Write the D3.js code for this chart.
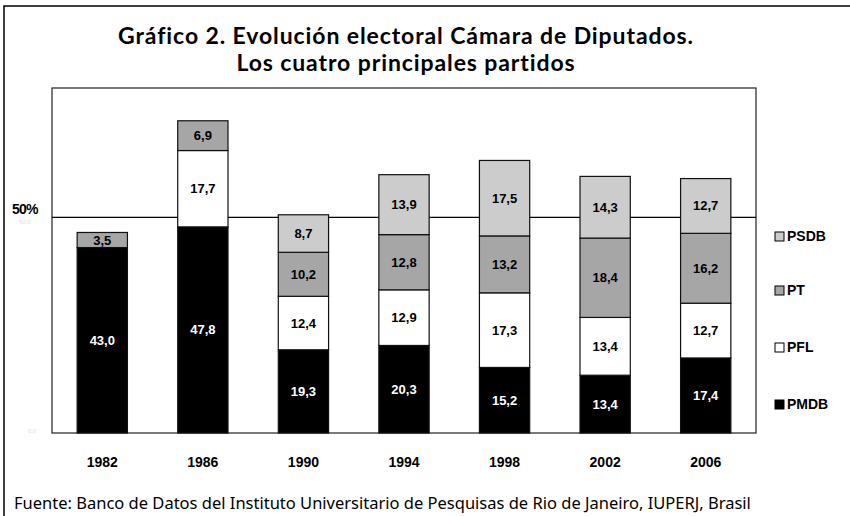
<!DOCTYPE html>
<html>
<head>
<meta charset="utf-8">
<style>
  body { margin: 0; background: #fff; }
  svg { display: block; }
</style>
</head>
<body>
<script src="https://cdn.jsdelivr.net/npm/d3@7"></script>
<script>
// datos (% de votos)
var years = ["1982", "1986", "1990", "1994", "1998", "2002", "2006"];
var parties = ["PMDB", "PFL", "PT", "PSDB"];
var pmdb = [43.0, 47.8, 19.3, 20.3, 15.2, 13.4, 17.4];
var pfl  = [0, 17.7, 12.4, 12.9, 17.3, 13.4, 12.7];
var pt   = [3.5, 6.9, 10.2, 12.8, 13.2, 18.4, 16.2];
var psdb = [0, 0, 8.7, 13.9, 17.5, 14.3, 12.7];
var colors = ["#000000", "#ffffff", "#a6a6a6", "#cccccc"];
var labelColors = ["#ffffff", "#000000", "#000000", "#000000"];

var width = 850, height = 516;
var plot = {left: 52, top: 88, right: 756, bottom: 433};

var svg = d3.select("body").append("svg")
    .attr("width", width)
    .attr("height", height);

// outer frame (only left and top edges visible)
svg.append("path")
    .attr("d", "M4,516V6H850")
    .attr("fill", "none")
    .attr("stroke", "#000")
    .attr("stroke-width", 1.5);

var titleLines = ["Gráfico 2. Evolución electoral Cámara de Diputados.", "Los cuatro principales partidos"];
svg.append("g")
    .selectAll("text")
    .data(titleLines)
    .join("text")
    .attr("x", 406)
    .attr("y", function(d, i) { return 44 + i * 27; })
    .attr("text-anchor", "middle")
    .style("font-family", "Lato, sans-serif")
    .style("font-weight", "bold")
    .style("font-size", "23px")
    .style("letter-spacing", "0.9px")
    .text(function(d) { return d; });

var x = d3.scaleBand()
    .domain(years)
    .range([plot.left, plot.right])
    .paddingInner(0.5)
    .paddingOuter(0.25);

var y = d3.scaleLinear()
    .domain([0, 80])
    .range([plot.bottom, plot.top]);

// plot box
svg.append("rect")
    .attr("x", plot.left).attr("y", plot.top)
    .attr("width", plot.right - plot.left)
    .attr("height", plot.bottom - plot.top)
    .attr("fill", "none")
    .attr("stroke", "#222")
    .attr("stroke-width", 1.2);

// 50% reference line
svg.append("line")
    .attr("x1", plot.left).attr("x2", plot.right)
    .attr("y1", y(50)).attr("y2", y(50))
    .attr("stroke", "#000")
    .attr("stroke-width", 1.2);

svg.append("text")
    .attr("x", 12).attr("y", y(50) - 3)
    .style("font-family", "'Liberation Sans', Arial, sans-serif")
    .style("font-weight", "bold")
    .style("font-size", "14px")
    .style("letter-spacing", "-0.8px")
    .text("50%");
svg.append("text")
    .attr("x", 19).attr("y", y(50) + 7)
    .style("font-family", "'Liberation Sans', Arial, sans-serif")
    .style("font-size", "6px")
    .attr("fill", "#dddddd")
    .text("50,0");
svg.append("text")
    .attr("x", 28).attr("y", y(0))
    .style("font-family", "'Liberation Sans', Arial, sans-serif")
    .style("font-size", "6px")
    .attr("fill", "#dddddd")
    .text("0,0");

var series = d3.stack()
    .keys(d3.range(parties.length))
    .value(function(d, k) { return [pmdb, pfl, pt, psdb][k][d]; })(d3.range(years.length));

var layer = svg.selectAll("g.layer")
    .data(series)
    .join("g")
    .attr("class", "layer");

layer.selectAll("rect")
    .data(function(s) { return s.filter(function(d) { return d[1] > d[0]; }); })
    .join("rect")
    .attr("x", function(d) { return x(years[d.data]); })
    .attr("width", x.bandwidth())
    .attr("y", function(d) { return y(d[1]); })
    .attr("height", function(d) { return y(d[0]) - y(d[1]); })
    .attr("fill", function() { return colors[d3.select(this.parentNode).datum().key]; })
    .attr("stroke", "#111")
    .attr("stroke-width", 1.2);

layer.selectAll("text")
    .data(function(s) { return s.filter(function(d) { return d[1] > d[0]; }); })
    .join("text")
    .attr("x", function(d) { return x(years[d.data]) + x.bandwidth() / 2; })
    .attr("y", function(d) { return (y(d[0]) + y(d[1])) / 2 + 4.5; })
    .attr("text-anchor", "middle")
    .attr("fill", function() { return labelColors[d3.select(this.parentNode).datum().key]; })
    .style("font-family", "'Liberation Sans', Arial, sans-serif")
    .style("font-weight", "bold")
    .style("font-size", "13px")
    .text(function(d) { return d3.format(".1f")(d[1] - d[0]).replace(".", ","); });

// year labels
svg.append("g")
    .selectAll("text")
    .data(years)
    .join("text")
    .attr("x", function(d) { return x(d) + x.bandwidth() / 2; })
    .attr("y", 467)
    .attr("text-anchor", "middle")
    .style("font-family", "'Liberation Sans', Arial, sans-serif")
    .style("font-weight", "bold")
    .style("font-size", "14px")
    .text(function(d) { return d; });

// legend
var legendY = [409, 352, 295, 241];
var legend = svg.append("g")
    .selectAll("g")
    .data(parties)
    .join("g")
    .attr("transform", function(d, i) { return "translate(775," + legendY[i] + ")"; });
legend.append("rect")
    .attr("x", 0).attr("y", -9)
    .attr("width", 9).attr("height", 9)
    .attr("fill", function(d, i) { return colors[i]; })
    .attr("stroke", "#000")
    .attr("stroke-width", 1);
legend.append("text")
    .attr("x", 12).attr("y", 0)
    .style("font-family", "'Liberation Sans', Arial, sans-serif")
    .style("font-weight", "bold")
    .style("font-size", "14px")
    .text(function(d) { return d; });

svg.append("text")
    .attr("x", 14).attr("y", 509)
    .style("font-family", "'Noto Sans', sans-serif")
    .style("font-size", "16.5px")
    .text("Fuente: Banco de Datos del Instituto Universitario de Pesquisas de Rio de Janeiro, IUPERJ, Brasil");
</script>
</body>
</html>
